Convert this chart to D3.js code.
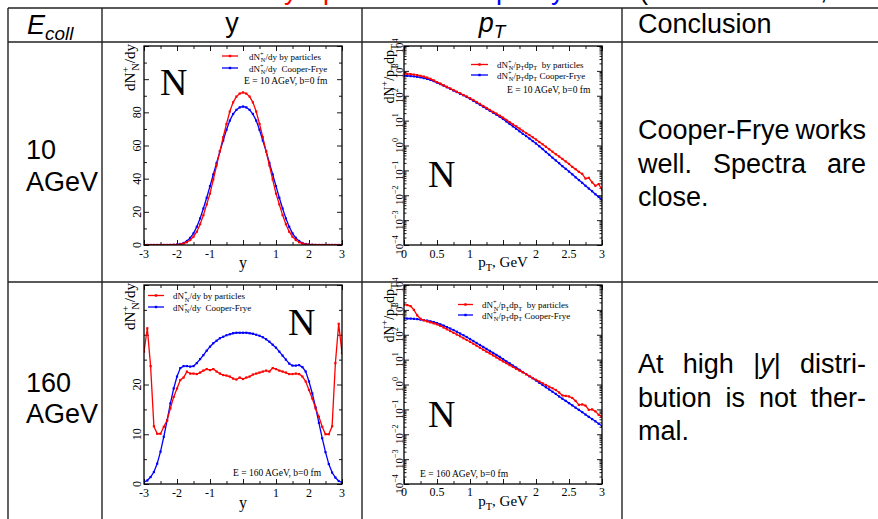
<!DOCTYPE html>
<html><head><meta charset="utf-8">
<script src="https://cdn.jsdelivr.net/npm/d3@7/dist/d3.min.js"></script>
<style>
html,body{margin:0;padding:0;background:#fff;}
svg{display:block;}
</style></head>
<body>
<svg id="chart" width="878" height="519"></svg>
<script>
// ---------------- DATA ----------------
const yBins = [-3,-2.9,-2.8,-2.7,-2.6,-2.5,-2.4,-2.3,-2.2,-2.1,-2,-1.9,-1.8,-1.7,-1.6,-1.5,-1.4,-1.3,-1.2,-1.1,-1,-0.9,-0.8,-0.7,-0.6,-0.5,-0.4,-0.3,-0.2,-0.1,0,0.1,0.2,0.3,0.4,0.5,0.6,0.7,0.8,0.9,1,1.1,1.2,1.3,1.4,1.5,1.6,1.7,1.8,1.9,2,2.1,2.2,2.3,2.4,2.5,2.6,2.7,2.8,2.9,3];
const ptBins = [0,0.05,0.1,0.15,0.2,0.25,0.3,0.35,0.4,0.45,0.5,0.55,0.6,0.65,0.7,0.75,0.8,0.85,0.9,0.95,1,1.05,1.1,1.15,1.2,1.25,1.3,1.35,1.4,1.45,1.5,1.55,1.6,1.65,1.7,1.75,1.8,1.85,1.9,1.95,2,2.05,2.1,2.15,2.2,2.25,2.3,2.35,2.4,2.45,2.5,2.55,2.6,2.65,2.7,2.75,2.8,2.85,2.9,2.95,3];

// E = 10 AGeV, dN/dy
const dndy10Particles = [0,0,0,0,0,0,0,0,0.05,0.1, 0.2,0.4,0.9,1.7,3,5,8,12.5,18,24.5, 31,39.5,48,56.5,65,73,80.5,86,89.5,91.3, 92, 91.3,89.5,86,80.5,73,65,56.5,48,39.5, 31,24.5,18,12.5,8,5,3,1.7,0.9,0.4, 0.2,0.1,0.05,0,0,0,0,0,0,0,0];
const dndy10CooperFrye = [0,0,0,0,0,0,0,0,0,0.1, 0.3,0.6,1.2,2.4,4.3,7,11,16,22,28.5, 35.5,42.5,49.5,56.5,63,69.5,75,79,81.5,83, 83.5, 83,81.5,79,75,69.5,63,56.5,49.5,42.5, 35.5,28.5,22,16,11,7,4.3,2.4,1.2,0.6, 0.3,0.1,0,0,0,0,0,0,0,0,0];

// E = 10 AGeV, dN/pTdpT
const pt10Particles = [759,759,741,708,676,631,589,537,479,417,355,309,263,229,195,170,145,126,107,93.3,79.4,67.6,56.2,46.8,38.9,32.4,26.9,22.4,19.1,15.8,13.2,10.7,8.71,7.08,5.89,4.79,3.89,3.16,2.63,2.14,1.74,1.38,1.12,0.891,0.708,0.562,0.447,0.363,0.288,0.229,0.182,0.138,0.112,0.0871,0.0724,0.0468,0.0501,0.0331,0.024,0.0282,0.0166];
const pt10CooperFrye = [631,631,617,603,575,550,513,479,437,389,339,295,257,219,191,162,141,120,105,89.1,75.9,63.1,52.5,43.7,36.3,30.2,25.1,20.9,17.4,14.5,11.7,9.33,7.41,5.89,4.68,3.72,2.95,2.40,1.91,1.51,1.20,0.933,0.724,0.550,0.427,0.324,0.251,0.195,0.148,0.115,0.0891,0.0692,0.0525,0.0407,0.0316,0.024,0.0186,0.0145,0.011,0.0085,0.0066];

// E = 160 AGeV, dN/dy
const dndy160Particles = [26.6,31.3,23.7,11.6,10.1,10.1,11.5,12.8,15.2,17.5, 19.2,20.9,21.4,22.6,22.2,22.2,22.1,22.4,22.8,23.1, 22.9,23.1,22.6,22.2,21.9,21.8,21.6,21.2,21.0,21.4, 21.1, 21.4,21.6,22.0,22.2,22.4,22.6,22.8,22.6,23.3,23.1, 22.8,22.6,22.4,22.1,22.1,22.2,22.1,21.6,20.6,18.9, 17.2,15.2,13.5,11.5,10.0,10.0,11.6,24.3,32.2,26.3];
const dndy160CooperFrye = [0.4,0.7,1.4,2.4,4.1,6.5,9.5,12.8,16.2,19.2, 21.6,23.3,23.7,23.7,23.6,23.7,24.3,25.1,25.9,26.8, 27.6,28.3,28.8,29.3,29.6,29.9,30.1,30.3,30.4,30.4, 30.4, 30.4,30.3,30.2,30.0,29.8,29.5,29.1,28.6,28.0,27.4, 26.6,25.8,25.0,24.2,23.8,23.8,23.9,23.5,22.6,20.6, 18.2,15.4,12.3,9.2,6.4,4.0,2.3,1.3,0.6,0.3];

// E = 160 AGeV, dN/pTdpT
const pt160Particles = [1622,1549,1413,1000,603,437,380,347,316,288,263,229,195,166,141,120,102,87.1,72.4,61.7,52.5,43.7,36.3,30.2,25.1,20.9,17.8,14.8,12.3,10.2,8.51,7.24,6.03,5.13,4.27,3.63,3.09,2.57,2.19,1.82,1.55,1.32,1.12,0.955,0.813,0.708,0.603,0.479,0.363,0.347,0.331,0.288,0.219,0.151,0.158,0.141,0.0955,0.1,0.0832,0.0603,0.0501];
const pt160CooperFrye = [447,447,447,437,427,407,389,372,347,324,295,263,234,204,178,155,132,112,95.5,81.3,67.6,56.2,46.8,38.9,32.4,26.9,22.4,18.6,15.5,12.9,10.5,8.51,7.08,5.75,4.79,3.89,3.16,2.63,2.14,1.78,1.45,1.17,0.955,0.776,0.631,0.513,0.417,0.331,0.269,0.219,0.178,0.145,0.117,0.0955,0.0776,0.0617,0.0501,0.0407,0.0331,0.0263,0.0214];

// tick labels
const yAxisLabels = [-3,-2,-1,1,2,3];
const ptAxisLabels = [0,0.5,1,2,2.5,3];
const dndy10Labels = [0,20,40,60,80];
const dndy160Labels = [0,10,20];
const logExponents = [-4,-3,-2,-1,0,1,2,3,4];

// table text
const headerTexts = ["y","Conclusion"];
const energyRows = [["10","AGeV"],["160","AGeV"]];
// fragments of the slide title cut off at the top edge (only descenders visible)
const titleFragments = [["y","#ff0000",284],["p","#ff0000",323],["p","#0000ff",496],["y","#0000ff",551],["(","#000",639],[",","#000",820]];

// ---------------- DRAW ----------------
const svg = d3.select("#chart");
const SERIF = "'Liberation Serif','Times New Roman',serif";
const SANS = "'Liberation Sans',Arial,sans-serif";
const RED = "#ff0000", BLUE = "#0000ff";

svg.append("rect").attr("width",878).attr("height",519).attr("fill","#fff");

function rich(text, parts, size){
  let cur = 0;
  parts.forEach(p=>{
    const k = p.k||'n';
    const target = k==='sup' ? -0.4*size : (k==='sub' ? 0.28*size : 0);
    const ts = text.append("tspan").text(p.t).attr("dy", target-cur);
    if(k!=='n') ts.attr("font-size", size*0.7);
    if(p.dx) ts.attr("dx", p.dx);
    if(p.it) ts.attr("font-style","italic");
    cur = target;
  });
  return text;
}

const dNdyParts = [{t:"dN"},{t:"+",k:"sup"},{t:"N",k:"sub",dx:-4},{t:"/dy"}];
const dNptParts = [{t:"dN"},{t:"+",k:"sup"},{t:"N",k:"sub",dx:-4},{t:"/p"},{t:"T",k:"sub"},{t:"dp"},{t:"T",k:"sub"}];

const panels = [
  {x0:144,y0:46,w:198,h:199, kind:"y", yDomain:[0,120], yLab:dndy10Labels, yMajor:20, yMinor:10,
   xs:yBins, red:dndy10Particles, blue:dndy10CooperFrye,
   leg:{x1:222,x2:238,tx:249,yr:56,yb:68,br:59.5,bb:71.5, ex:244, ey:84, etext:"E = 10 AGeV, b=0 fm"},
   N:{x:160,y:95}, xLabY:258, xTitleY:268},
  {x0:404,y0:46,w:198,h:199, kind:"pt", xs:ptBins, red:pt10Particles, blue:pt10CooperFrye,
   leg:{x1:471,x2:488,tx:497,yr:64.5,yb:75,br:67.5,bb:78.5, ex:507, ey:92.5, etext:"E = 10 AGeV, b=0 fm"},
   N:{x:428,y:187}, xLabY:258, xTitleY:267},
  {x0:144,y0:285,w:198,h:199, kind:"y", yDomain:[0,40], yLab:dndy160Labels, yMajor:10, yMinor:5,
   xs:yBins, red:dndy160Particles, blue:dndy160CooperFrye,
   leg:{x1:148,x2:164,tx:173,yr:295.5,yb:307,br:299,bb:310.5, ex:233, ey:476, etext:"E = 160 AGeV, b=0 fm"},
   N:{x:288,y:335}, xLabY:497, xTitleY:508},
  {x0:404,y0:285,w:198,h:199, kind:"pt", xs:ptBins, red:pt160Particles, blue:pt160CooperFrye,
   leg:{x1:458,x2:473,tx:482,yr:304.5,yb:315,br:308,bb:318.5, ex:420, ey:477, etext:"E = 160 AGeV, b=0 fm"},
   N:{x:428,y:427}, xLabY:496, xTitleY:506}
];

panels.forEach(p=>{
  const g = svg.append("g");
  const x = d3.scaleLinear().domain(p.kind==="y"?[-3,3]:[0,3]).range([p.x0,p.x0+p.w]);
  const y = p.kind==="y" ? d3.scaleLinear().domain(p.yDomain).range([p.y0+p.h,p.y0])
                         : d3.scaleLog().domain([1e-4,1e4]).range([p.y0+p.h,p.y0]);
  const xMaj = p.kind==="y" ? d3.range(-3,3.01,1) : d3.range(0,3.01,0.5);
  const xMin = p.kind==="y" ? d3.range(-2.5,3,1) : d3.range(0.25,3,0.5);
  let yMaj, yMin;
  if(p.kind==="y"){ yMaj = d3.range(p.yDomain[0],p.yDomain[1]+0.01,p.yMajor); yMin = d3.range(p.yMinor,p.yDomain[1],p.yMajor); }
  else { yMaj = logExponents.map(e=>Math.pow(10,e)); yMin=[]; for(let e=-4;e<4;e++) for(let m=2;m<10;m++) yMin.push(m*Math.pow(10,e)); }
  const tk = (axis, tr)=>{ const a=g.append("g").attr("transform",tr).call(axis); a.select(".domain").remove(); a.selectAll("line").attr("stroke","#000").attr("stroke-width",0.9); };
  tk(d3.axisBottom(x).tickValues(xMaj).tickSize(-5).tickFormat(""),`translate(0,${p.y0+p.h})`);
  tk(d3.axisBottom(x).tickValues(xMin).tickSize(-3).tickFormat(""),`translate(0,${p.y0+p.h})`);
  tk(d3.axisTop(x).tickValues(xMaj).tickSize(-5).tickFormat(""),`translate(0,${p.y0})`);
  tk(d3.axisTop(x).tickValues(xMin).tickSize(-3).tickFormat(""),`translate(0,${p.y0})`);
  tk(d3.axisLeft(y).tickValues(yMaj).tickSize(-5).tickFormat(""),`translate(${p.x0},0)`);
  tk(d3.axisLeft(y).tickValues(yMin).tickSize(p.kind==="y"?-3:-2.5).tickFormat(""),`translate(${p.x0},0)`);
  tk(d3.axisRight(y).tickValues(yMaj).tickSize(-5).tickFormat(""),`translate(${p.x0+p.w},0)`);
  tk(d3.axisRight(y).tickValues(yMin).tickSize(p.kind==="y"?-3:-2.5).tickFormat(""),`translate(${p.x0+p.w},0)`);

  const clipId = "clip"+p.x0+"_"+p.y0;
  svg.append("clipPath").attr("id",clipId).append("rect").attr("x",p.x0).attr("y",p.y0).attr("width",p.w).attr("height",p.h);
  const sg = g.append("g").attr("clip-path",`url(#${clipId})`);
  [[p.blue,BLUE],[p.red,RED]].forEach(([vals,col])=>{
    const pts = vals.map((v,i)=>[p.xs[i],v]).filter(d=>p.kind==="y"||d[1]>0);
    sg.append("path").datum(pts).attr("fill","none").attr("stroke",col).attr("stroke-width",1.3)
      .attr("d", d3.line().x(d=>x(d[0])).y(d=>y(d[1])));
    sg.selectAll(null).data(pts).enter().append("rect")
      .attr("x",d=>x(d[0])-1.1).attr("y",d=>y(d[1])-1.1).attr("width",2.2).attr("height",2.2).attr("fill",col);
  });

  g.append("rect").attr("x",p.x0).attr("y",p.y0).attr("width",p.w).attr("height",p.h)
    .attr("fill","none").attr("stroke","#000").attr("stroke-width",1.3);

  const xl = p.kind==="y" ? yAxisLabels : ptAxisLabels;
  g.selectAll(null).data(xl).enter().append("text")
    .attr("x",d=>x(d)).attr("y",p.xLabY).attr("text-anchor","middle")
    .attr("font-family",SERIF).attr("font-size",12).text(d=>d);
  if(p.kind==="y"){
    g.append("text").attr("x",x(0)).attr("y",p.xTitleY).attr("text-anchor","middle")
      .attr("font-family",SERIF).attr("font-size",16).text("y");
  } else {
    const t = g.append("text").attr("x",x(1.5)).attr("y",p.xTitleY).attr("text-anchor","middle")
      .attr("font-family",SERIF).attr("font-size",15);
    rich(t,[{t:"p"},{t:"T",k:"sub"},{t:", GeV"}],15);
  }
  if(p.kind==="y"){
    p.yLab.forEach(v=>{
      g.append("text").attr("transform",`translate(${p.x0-3},${y(v)}) rotate(-90)`)
        .attr("text-anchor","middle").attr("font-family",SERIF).attr("font-size",12).text(v);
    });
    const t = g.append("text").attr("transform",`translate(${p.x0-9},${p.y0-2}) rotate(-90)`)
      .attr("text-anchor","end").attr("font-family",SERIF).attr("font-size",15);
    rich(t,dNdyParts,15);
  } else {
    logExponents.forEach(e=>{
      const t = g.append("text").attr("transform",`translate(${p.x0-1.5},${y(Math.pow(10,e))}) rotate(-90)`)
        .attr("text-anchor","middle").attr("font-family",SERIF).attr("font-size",11);
      t.append("tspan").text("10");
      t.append("tspan").text(e<0?"\u2212"+(-e):String(e)).attr("font-size",8).attr("dy",-4.5);
    });
    const t = g.append("text").attr("transform",`translate(${p.x0-10},${p.y0-2}) rotate(-90)`)
      .attr("text-anchor","end").attr("font-family",SERIF).attr("font-size",14);
    rich(t,[{t:"dN"},{t:"+",k:"sup"},{t:"/p"},{t:"T",k:"sub"},{t:"dp"},{t:"T",k:"sub"}],14);
  }

  const L = p.leg;
  [[L.yr,L.br,RED,"by particles"],[L.yb,L.bb,BLUE,"Cooper-Frye"]].forEach(([ly,by,col,lab],i)=>{
    g.append("line").attr("x1",L.x1).attr("x2",L.x2).attr("y1",ly).attr("y2",ly).attr("stroke",col).attr("stroke-width",1.3);
    g.append("rect").attr("x",(L.x1+L.x2)/2-1.2).attr("y",ly-1.2).attr("width",2.4).attr("height",2.4).attr("fill",col);
    const t = g.append("text").attr("x",L.tx).attr("y",by).attr("font-family",SERIF).attr("font-size",9).attr("xml:space","preserve");
    const base = p.kind==="y" ? dNdyParts.slice() : dNptParts.slice();
    const sep = p.kind==="y" ? (i===0?" ":"  ") : (i===0?"  ":" ");
    rich(t, base.map(q=>Object.assign({},q,{dx:q.dx?-2.7:0})).concat([{t:sep+lab}]), 9);
  });
  g.append("text").attr("x",L.ex).attr("y",L.ey).attr("font-family",SERIF).attr("font-size",9.5).text(L.etext);
  g.append("text").attr("x",p.N.x).attr("y",p.N.y).attr("font-family",SERIF).attr("font-size",38).text("N");
});

// ---------------- TABLE ----------------
const lineCol = "#222";
const T = svg.append("g");
titleFragments.forEach(([ch,col,xv])=>T.append("text").attr("x",xv).attr("y",-1).attr("fill",col)
  .attr("font-family",SANS).attr("font-size",27).text(ch));
[[8,878,8,8],[8,878,42,42],[8,878,282,282]].forEach(l=>
  T.append("line").attr("x1",l[0]).attr("x2",l[1]).attr("y1",l[2]).attr("y2",l[3]).attr("stroke",lineCol).attr("stroke-width",1.4));
[8,102,362,622].forEach(xv=>
  T.append("line").attr("x1",xv).attr("x2",xv).attr("y1",8).attr("y2",519).attr("stroke",lineCol).attr("stroke-width",1.4));

const FS = 27;
const eh = T.append("text").attr("x",27).attr("y",34).attr("font-family",SANS).attr("font-size",FS);
eh.append("tspan").text("E").attr("font-style","italic");
eh.append("tspan").text("coll").attr("font-style","italic").attr("font-size",FS*0.7).attr("dy",6);
T.append("text").attr("x",232).attr("y",32).attr("text-anchor","middle").attr("font-family",SANS).attr("font-size",FS).text(headerTexts[0]);
const ph = T.append("text").attr("x",492).attr("y",32).attr("text-anchor","middle").attr("font-family",SANS).attr("font-size",FS);
ph.append("tspan").text("p").attr("font-style","italic");
ph.append("tspan").text("T").attr("font-style","italic").attr("font-size",FS*0.7).attr("dy",6);
T.append("text").attr("x",638).attr("y",33).attr("font-family",SANS).attr("font-size",FS).text(headerTexts[1]);

[[energyRows[0],[159,191]],[energyRows[1],[392,423]]].forEach(([lines,ys])=>{
  lines.forEach((s,i)=>T.append("text").attr("x",26).attr("y",ys[i]).attr("font-family",SANS).attr("font-size",FS).text(s));
});

function word(parts, yb){
  const t = T.append("text").attr("y",yb).attr("font-family",SANS).attr("font-size",FS);
  (typeof parts==="string"?[{t:parts}]:parts).forEach(p=>{
    const ts=t.append("tspan").text(p.t); if(p.it) ts.attr("font-style","italic");
  });
  return t;
}
function textLine(words, xL, xR, yb, justify){
  const nodes = words.map(w=>word(w,yb));
  const widths = nodes.map(n=>n.node().getComputedTextLength());
  const sum = d3.sum(widths);
  const gap = justify && words.length>1 ? (xR-xL-sum)/(words.length-1) : FS*0.28;
  let cx = xL;
  nodes.forEach((n,i)=>{ n.attr("x",cx); cx += widths[i]+gap; });
}
const concl1 = [[["Cooper-Frye","works"],true],[["well.","Spectra","are"],true],[["close."],false]];
const concl2 = [[["At","high",[{t:"|"},{t:"y",it:true},{t:"|"}],"distri-"],true],[["bution","is","not","ther-"],true],[["mal."],false]];
const c1y=[139,173,206], c2y=[373,407,440];
concl1.forEach((l,i)=>textLine(l[0],638,866,c1y[i],l[1]));
concl2.forEach((l,i)=>textLine(l[0],638,866,c2y[i],l[1]));
</script>
</body></html>
